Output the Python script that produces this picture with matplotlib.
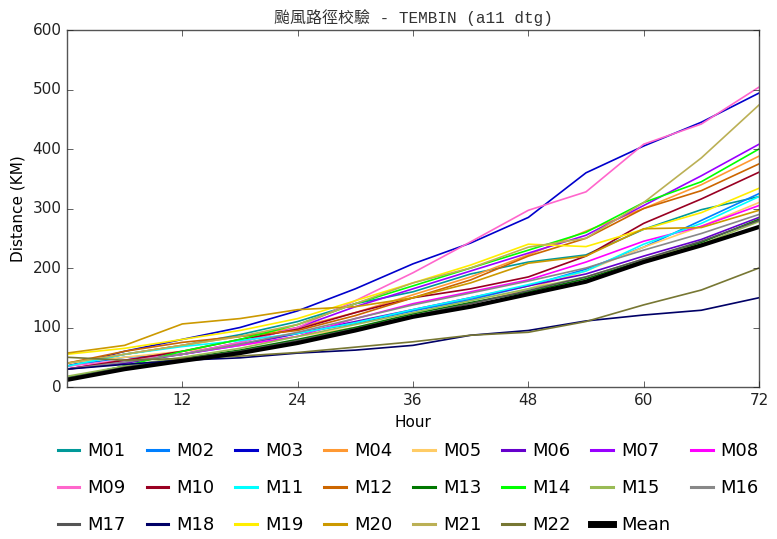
import matplotlib
matplotlib.use('Agg')
import matplotlib.pyplot as plt

hours = [0, 6, 12, 18, 24, 30, 36, 42, 48, 54, 60, 66, 72]

M01 = [35, 55, 70, 88, 110, 140, 160, 190, 210, 222, 265, 298, 320]
M02 = [35, 50, 55, 70, 90, 107, 128, 147, 170, 198, 235, 280, 325]
M03 = [35, 60, 80, 100, 128, 165, 207, 242, 285, 360, 405, 445, 494]
M04 = [40, 55, 70, 85, 100, 125, 155, 185, 222, 262, 300, 340, 388]
M05 = [40, 50, 60, 70, 85, 100, 118, 140, 165, 195, 235, 270, 310]
M06 = [30, 40, 55, 72, 90, 110, 130, 150, 170, 190, 220, 248, 285]
M07 = [30, 45, 55, 75, 100, 135, 165, 195, 225, 255, 305, 355, 408]
M08 = [30, 45, 55, 70, 85, 115, 140, 160, 180, 210, 245, 270, 305]
M09 = [35, 45, 55, 75, 100, 145, 192, 244, 297, 328, 408, 442, 504]
M10 = [30, 45, 60, 80, 97, 125, 150, 165, 185, 220, 275, 316, 361]
M11 = [35, 55, 68, 78, 90, 108, 130, 150, 172, 195, 240, 275, 320]
M12 = [40, 60, 75, 85, 95, 120, 150, 180, 220, 250, 300, 330, 375]
M13 = [15, 35, 48, 62, 80, 100, 123, 142, 160, 182, 213, 243, 282]
M14 = [15, 35, 60, 80, 105, 140, 170, 200, 230, 260, 310, 345, 400]
M15 = [18, 35, 50, 65, 85, 105, 125, 145, 165, 185, 215, 240, 278]
M16 = [30, 42, 55, 72, 92, 115, 138, 158, 178, 200, 230, 258, 290]
M17 = [15, 33, 47, 60, 78, 98, 120, 140, 162, 185, 215, 245, 280]
M18 = [30, 38, 45, 49, 57, 62, 70, 87, 95, 111, 121, 129, 150]
M19 = [55, 65, 80, 95, 115, 145, 175, 205, 240, 236, 265, 293, 334]
M20 = [57, 70, 106, 115, 130, 135, 150, 175, 208, 220, 266, 268, 297]
M21 = [40, 55, 70, 85, 105, 140, 175, 200, 235, 250, 310, 385, 474]
M22 = [50, 45, 48, 52, 58, 67, 76, 87, 92, 110, 138, 163, 200]
Mean = [12, 30, 44, 57, 74, 95, 118, 135, 156, 177, 210, 238, 269]

models = [M01, M02, M03, M04, M05, M06, M07, M08, M09, M10, M11,
          M12, M13, M14, M15, M16, M17, M18, M19, M20, M21, M22]
names = ['M%02d' % (i + 1) for i in range(22)]
colors = ['#009999', '#0080FF', '#0000CC', '#FF9933', '#FFCC66', '#6600CC',
          '#9900FF', '#FF00FF', '#FF66CC', '#990022', '#00FFFF', '#CC6600',
          '#007700', '#00FF00', '#99BB55', '#888888', '#555555', '#000066',
          '#FFEE00', '#CC9900', '#BBB055', '#777733']

plt.style.use('classic')
fig = plt.figure(figsize=(7.77, 5.39), dpi=100, facecolor='white')
ax = fig.add_axes([0.0862, 0.282, 0.8906, 0.6623])

lines = []
for vals, name, c in zip(models, names, colors):
    l, = ax.plot(hours, vals, color=c, lw=1.2, label=name)
    lines.append(l)
l, = ax.plot(hours, Mean, color='black', lw=3.0, label='Mean')
lines.append(l)

ax.set_xlim(0, 72)
ax.set_ylim(0, 600)
ax.set_xticks([12, 24, 36, 48, 60, 72])
ax.set_yticks(range(0, 601, 100))
ax.tick_params(labelsize=11, colors='#222222')
for s in ax.spines.values():
    s.set_color('#555555')
ax.set_xlabel('Hour', fontsize=11)
ax.set_ylabel('Distance (KM)', fontsize=11)
ax.set_title('颱風路徑校驗 - TEMBIN (a11 dtg)', fontsize=11.5,
             family=['Liberation Mono', 'Noto Sans CJK TC'], color='#333333')

# legend fills row by row: reorder for matplotlib's column-major layout
ncol = 8
order = [r * ncol + c for c in range(ncol) for r in range(3) if r * ncol + c < len(lines)]
leg = fig.legend([lines[i] for i in order], [lines[i].get_label() for i in order],
                 loc='upper center', bbox_to_anchor=(0.522, 0.21), ncol=ncol,
                 frameon=False, fontsize=13, handlelength=1.8, handletextpad=0.15,
                 columnspacing=0.85, labelspacing=1.05)
for h, i in zip(leg.legend_handles, order):
    h.set_linewidth(5 if i == len(lines) - 1 else 2.2)

fig.savefig('out.png', dpi=100, facecolor='white')
